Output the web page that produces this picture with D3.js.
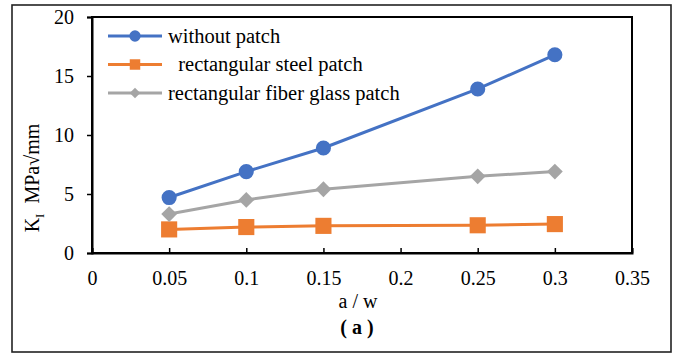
<!DOCTYPE html>
<html>
<head>
<meta charset="utf-8">
<script src="https://cdn.jsdelivr.net/npm/d3@7"></script>
</head>
<body style="margin:0">
<svg id="fig" width="675" height="354"></svg>
<script>
// Crack ratio a/w and stress intensity factor K_I (MPa·√mm)
const crackRatio = [0.05, 0.1, 0.15, 0.25, 0.3];
const withoutPatch = [4.7, 6.9, 8.9, 13.9, 16.8];
const steelPatch = [2.0, 2.2, 2.3, 2.35, 2.45];
const fiberGlassPatch = [3.3, 4.5, 5.4, 6.5, 6.9];
const xTicks = [0, 0.05, 0.1, 0.15, 0.2, 0.25, 0.3, 0.35];
const yTicks = [0, 5, 10, 15, 20];

const SERIF = "Times New Roman";

const series = [
  { name: "without patch", values: withoutPatch, color: "#4472C4", kind: "circle" },
  { name: "\u00A0\u00A0rectangular steel patch", values: steelPatch, color: "#ED7D31", kind: "square" },
  { name: "rectangular fiber glass patch", values: fiberGlassPatch, color: "#A5A5A5", kind: "diamond" }
];

// marker shapes: plot size and legend size
function markerPath(kind, legend) {
  if (kind === "circle") return d3.symbol().type(d3.symbolCircle).size(legend ? 100 : 180)();
  if (kind === "square") return d3.symbol().type(d3.symbolSquare).size(legend ? 110 : 260)();
  return d3.symbol().type(d3.symbolSquare).size(legend ? 55 : 125)();
}
const markerRotate = kind => kind === "diamond" ? " rotate(45)" : "";

const svg = d3.select("#fig").attr("font-family", SERIF);
const margin = { left: 92, top: 17, right: 632, bottom: 253 };

const x = d3.scaleLinear().domain([0, 0.35]).range([margin.left, margin.right]);
const y = d3.scaleLinear().domain([0, 20]).range([margin.bottom, margin.top]);

// outer frame
svg.append("rect")
  .attr("x", 12).attr("y", 5).attr("width", 659).attr("height", 347)
  .attr("fill", "none").attr("stroke", "#222").attr("stroke-width", 1.6);

// plot frame
svg.append("rect")
  .attr("x", margin.left).attr("y", margin.top)
  .attr("width", margin.right - margin.left).attr("height", margin.bottom - margin.top)
  .attr("fill", "none").attr("stroke", "#000").attr("stroke-width", 2);

// y axis: ticks pointing outward
const yAxis = svg.append("g")
  .attr("transform", `translate(${margin.left},0)`)
  .call(d3.axisLeft(y).tickValues(yTicks).tickSize(5).tickPadding(13).tickFormat(d3.format("d")));
yAxis.attr("font-family", SERIF).attr("font-size", 20);
yAxis.select(".domain").attr("stroke-width", 2);
yAxis.selectAll(".tick line").attr("stroke-width", 1.5);
yAxis.selectAll("text").attr("font-family", SERIF).attr("dy", "0.34em");

// x axis: ticks pointing into the plot
const xAxis = svg.append("g")
  .attr("transform", `translate(0,${margin.bottom})`)
  .call(d3.axisBottom(x).tickValues(xTicks).tickSize(-5).tickPadding(18)
    .tickFormat(d => d === 0 ? "0" : String(+d.toFixed(2))));
xAxis.attr("font-family", SERIF).attr("font-size", 20);
xAxis.select(".domain").attr("stroke-width", 2);
xAxis.selectAll(".tick line").attr("stroke-width", 1.5);
xAxis.selectAll("text").attr("font-family", SERIF);

// axis titles
svg.append("text")
  .attr("x", 358).attr("y", 308)
  .attr("text-anchor", "middle").attr("font-family", SERIF).attr("font-size", 20)
  .text("a / w");

svg.append("text")
  .attr("x", 357).attr("y", 334)
  .attr("text-anchor", "middle").attr("font-family", SERIF)
  .attr("font-size", 20).attr("font-weight", "bold")
  .text("( a )");

const yTitle = svg.append("text")
  .attr("transform", "translate(39,178) rotate(-90)")
  .attr("text-anchor", "middle").attr("font-family", SERIF).attr("font-size", 20);
yTitle.append("tspan").text("K");
yTitle.append("tspan").attr("dy", 5).attr("font-size", 13).text("I");
yTitle.append("tspan").attr("dy", -5).text("\u00A0\u00A0MPa\u221Amm");

// series lines and markers
const line = d3.line().x((d, i) => x(crackRatio[i])).y(d => y(d));
series.forEach(s => {
  svg.append("path")
    .datum(s.values)
    .attr("d", line)
    .attr("fill", "none").attr("stroke", s.color).attr("stroke-width", 3);
});
series.forEach(s => {
  svg.append("g").selectAll("path")
    .data(s.values)
    .join("path")
    .attr("transform", (d, i) => `translate(${x(crackRatio[i])},${y(d)})${markerRotate(s.kind)}`)
    .attr("d", markerPath(s.kind, false))
    .attr("fill", s.color);
});

// legend
const legend = svg.append("g");
series.forEach((s, i) => {
  const ly = 36 + i * 28.5;
  const g = legend.append("g").attr("transform", `translate(0,${ly})`);
  g.append("line").attr("x1", 108).attr("x2", 162).attr("y1", 0).attr("y2", 0)
    .attr("stroke", s.color).attr("stroke-width", 3);
  g.append("path").attr("transform", `translate(135,0)${markerRotate(s.kind)}`)
    .attr("d", markerPath(s.kind, true)).attr("fill", s.color);
  g.append("text").attr("x", 168).attr("y", 0).attr("dy", "0.32em")
    .attr("font-family", SERIF).attr("font-size", 20.5).text(s.name);
});
</script>
</body>
</html>
